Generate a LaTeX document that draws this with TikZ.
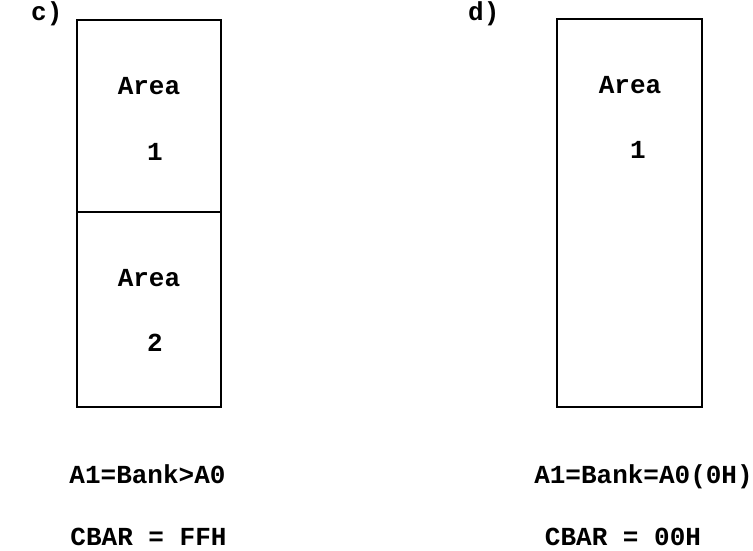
\documentclass[tikz,border=0pt]{standalone}
\usepackage{fontspec}
\setmonofont{Liberation Mono}
\begin{document}
\begin{tikzpicture}[x=1pt,y=-1pt,
  membox/.style={draw=black,line width=2.6pt,rectangle,inner sep=0pt},
  lbl/.style={font=\ttfamily\bfseries\fontsize{26}{28}\selectfont,inner sep=0pt,anchor=base}]
\useasboundingbox (0,0) rectangle (753,551);
% left diagram c)
\node[membox,minimum width=144pt,minimum height=192pt] (area1) at (149,116) {};
\node[membox,minimum width=144pt,minimum height=195pt] (area2) at (149,309.5) {};
\node[lbl,anchor=base west] (lc) at (31,21) {c)};
\node[lbl] (a1t) at (149,95) {Area};
\node[lbl] (a1n) at (155,160) {1};
\node[lbl] (a2t) at (149,286) {Area};
\node[lbl] (a2n) at (155,351) {2};
\node[lbl] (lbank) at (147.5,483) {A1=Bank>A0};
\node[lbl] (lcbar) at (148.5,545) {CBAR = FFH};
% right diagram d)
\node[membox,minimum width=145pt,minimum height=388pt] (area3) at (629.5,213) {};
\node[lbl,anchor=base west] (ld) at (468,21) {d)};
\node[lbl] (a3t) at (630,93) {Area};
\node[lbl] (a3n) at (638,158) {1};
\node[lbl] (rbank) at (643.5,483) {A1=Bank=A0(0H)};
\node[lbl] (rcbar) at (623,545) {CBAR = 00H};
\end{tikzpicture}
\end{document}
